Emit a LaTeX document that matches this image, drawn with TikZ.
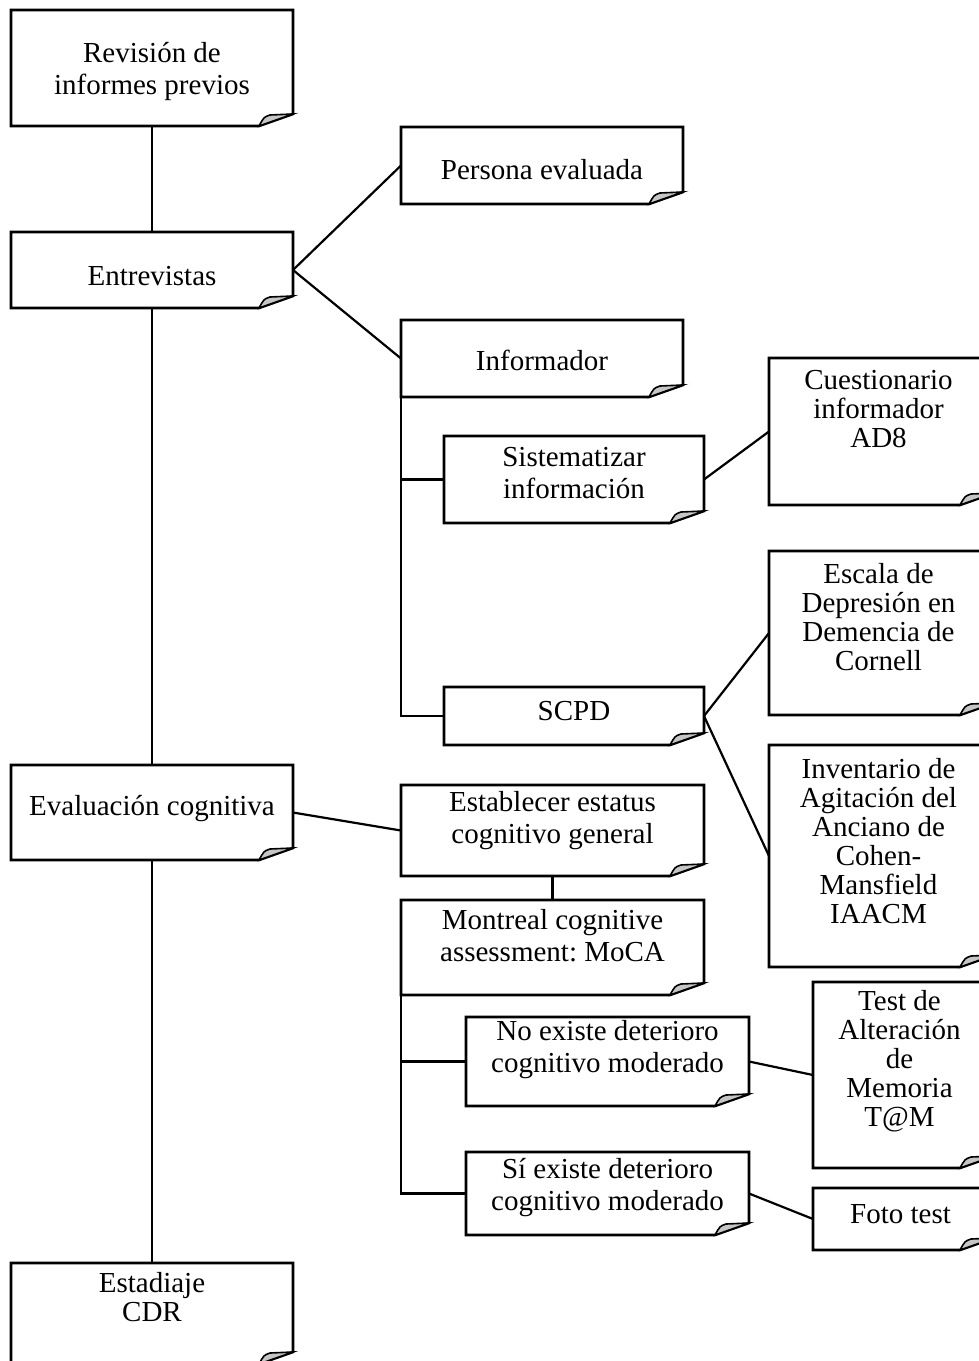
\documentclass[tikz,border=0pt]{standalone}
\usepackage{fontspec}
\setmainfont{Liberation Serif}
\frenchspacing
\usetikzlibrary{calc}
\tikzstyle{doc} = [rectangle, inner sep=0pt, outer sep=0pt]
\tikzstyle{outline} = [line width=1.3pt, line join=miter]
\tikzstyle{line} = [line width=1.1pt]
\tikzstyle{tight} = [font=\fontsize{14.5}{14.5}\selectfont]
\tikzset{
  sz/.style 2 args={minimum width=#1*0.5pt, minimum height=#2*0.5pt},
  every label/.style={align=center, font=\fontsize{14.5}{16}\selectfont}
}

\begin{document}
\begin{tikzpicture}[x=0.5pt, y=-0.5pt]
    \useasboundingbox (0,0) rectangle (979,1361);

    % Nodes
    \node (rev) [doc, sz={282}{116}, label={[yshift=-1.5pt]center:{Revisión de\\informes previos}}] at (152,68) {};
    \node (ent) [doc, sz={282}{76}, label={[yshift=-3pt]center:{Entrevistas}}] at (152,270) {};
    \node (pers) [doc, sz={282}{77}, label={[yshift=-2pt]center:{Persona evaluada}}] at (542,165.5) {};
    \node (inf) [doc, sz={282}{77}, label={[yshift=-1pt]center:{Informador}}] at (542,358.5) {};
    \node (sist) [doc, sz={260}{87}, label={[yshift=3pt]center:{Sistematizar\\información}}] at (574,479.5) {};
    \node (cues) [doc, sz={225}{147}, label={[tight, yshift=11pt, xshift=-1.5pt]center:{Cuestionario\\informador\\AD8}}] at (881.5,431.5) {};
    \node (scpd) [doc, sz={260}{58}, label={[yshift=2.5pt]center:{SCPD}}] at (574,716) {};
    \node (esc) [doc, sz={225}{164}, label={[tight, yshift=8pt, xshift=-1.5pt]center:{Escala de\\Depresión en\\Demencia de\\Cornell}}] at (881.5,633) {};
    \node (inv) [doc, sz={225}{222}, label={[tight, yshift=7.5pt, xshift=-1.5pt]center:{Inventario de\\Agitación del\\Anciano de\\Cohen-\\Mansfield\\IAACM}}] at (881.5,856) {};
    \node (evc) [doc, sz={282}{95}, label={[yshift=2pt]center:{Evaluación cognitiva}}] at (152,812.5) {};
    \node (est) [doc, sz={303}{91}, label={[yshift=5pt]center:{Establecer estatus\\cognitivo general}}] at (552.5,830.5) {};
    \node (moca) [doc, sz={303}{95}, label={[yshift=6pt]center:{Montreal cognitive\\assessment: MoCA}}] at (552.5,947.5) {};
    \node (no) [doc, sz={283}{89}, label={[yshift=6pt]center:{No existe deterioro\\cognitivo moderado}}] at (607.5,1061.5) {};
    \node (tam) [doc, sz={181}{186}, label={[tight, yshift=7pt, xshift=-2pt]center:{Test de\\Alteración\\de\\Memoria\\T@M}}] at (903.5,1075) {};
    \node (si) [doc, sz={283}{83}, label={[yshift=3pt]center:{Sí existe deterioro\\cognitivo moderado}}] at (607.5,1193.5) {};
    \node (foto) [doc, sz={181}{62}, label={[yshift=2.5pt, xshift=-1.5pt]center:{Foto test}}] at (903.5,1219) {};
    \node (cdr) [doc, sz={282}{101}, label={[tight, yshift=8pt]center:{Estadiaje\\CDR}}] at (152,1313.5) {};

    % Boxes with folded corner
    \foreach \n in {rev,ent,pers,inf,sist,cues,scpd,esc,inv,evc,est,moca,no,tam,si,foto,cdr} {
        \draw [outline] (\n.north west) -- (\n.north east) -- ($(\n.south east)+(0,-12)$) -- ($(\n.south east)+(-34,0)$) -- (\n.south west) -- cycle;
        \draw [outline, line width=0.8pt, fill=gray!45] ($(\n.south east)+(-34,0)$) .. controls ($(\n.south east)+(-29,-9)$) .. ($(\n.south east)+(-23,-11)$) -- ($(\n.south east)+(0,-12)$) -- cycle;
    }

    % Lines
    \draw [line] (rev) -- (ent);
    \draw [line] (ent) -- (evc);
    \draw [line] (evc) -- (cdr);
    \draw [line] (ent.east) -- (pers.west);
    \draw [line] (ent.east) -- (inf.west);
    \draw [line] (inf.south west) |- (scpd.west);
    \draw [line] (inf.south west |- sist.west) -- (sist.west);
    \draw [line] (sist.east) -- (cues.west);
    \draw [line] (scpd.east) -- (esc.west);
    \draw [line] (scpd.east) -- (inv.west);
    \draw [line] (evc.east) -- (est.west);
    \draw [line] (est) -- (moca);
    \draw [line] (moca.south west) |- (si.west);
    \draw [line] (moca.south west |- no.west) -- (no.west);
    \draw [line] (no.east) -- (tam.west);
    \draw [line] (si.east) -- (foto.west);
\end{tikzpicture}
\end{document}
